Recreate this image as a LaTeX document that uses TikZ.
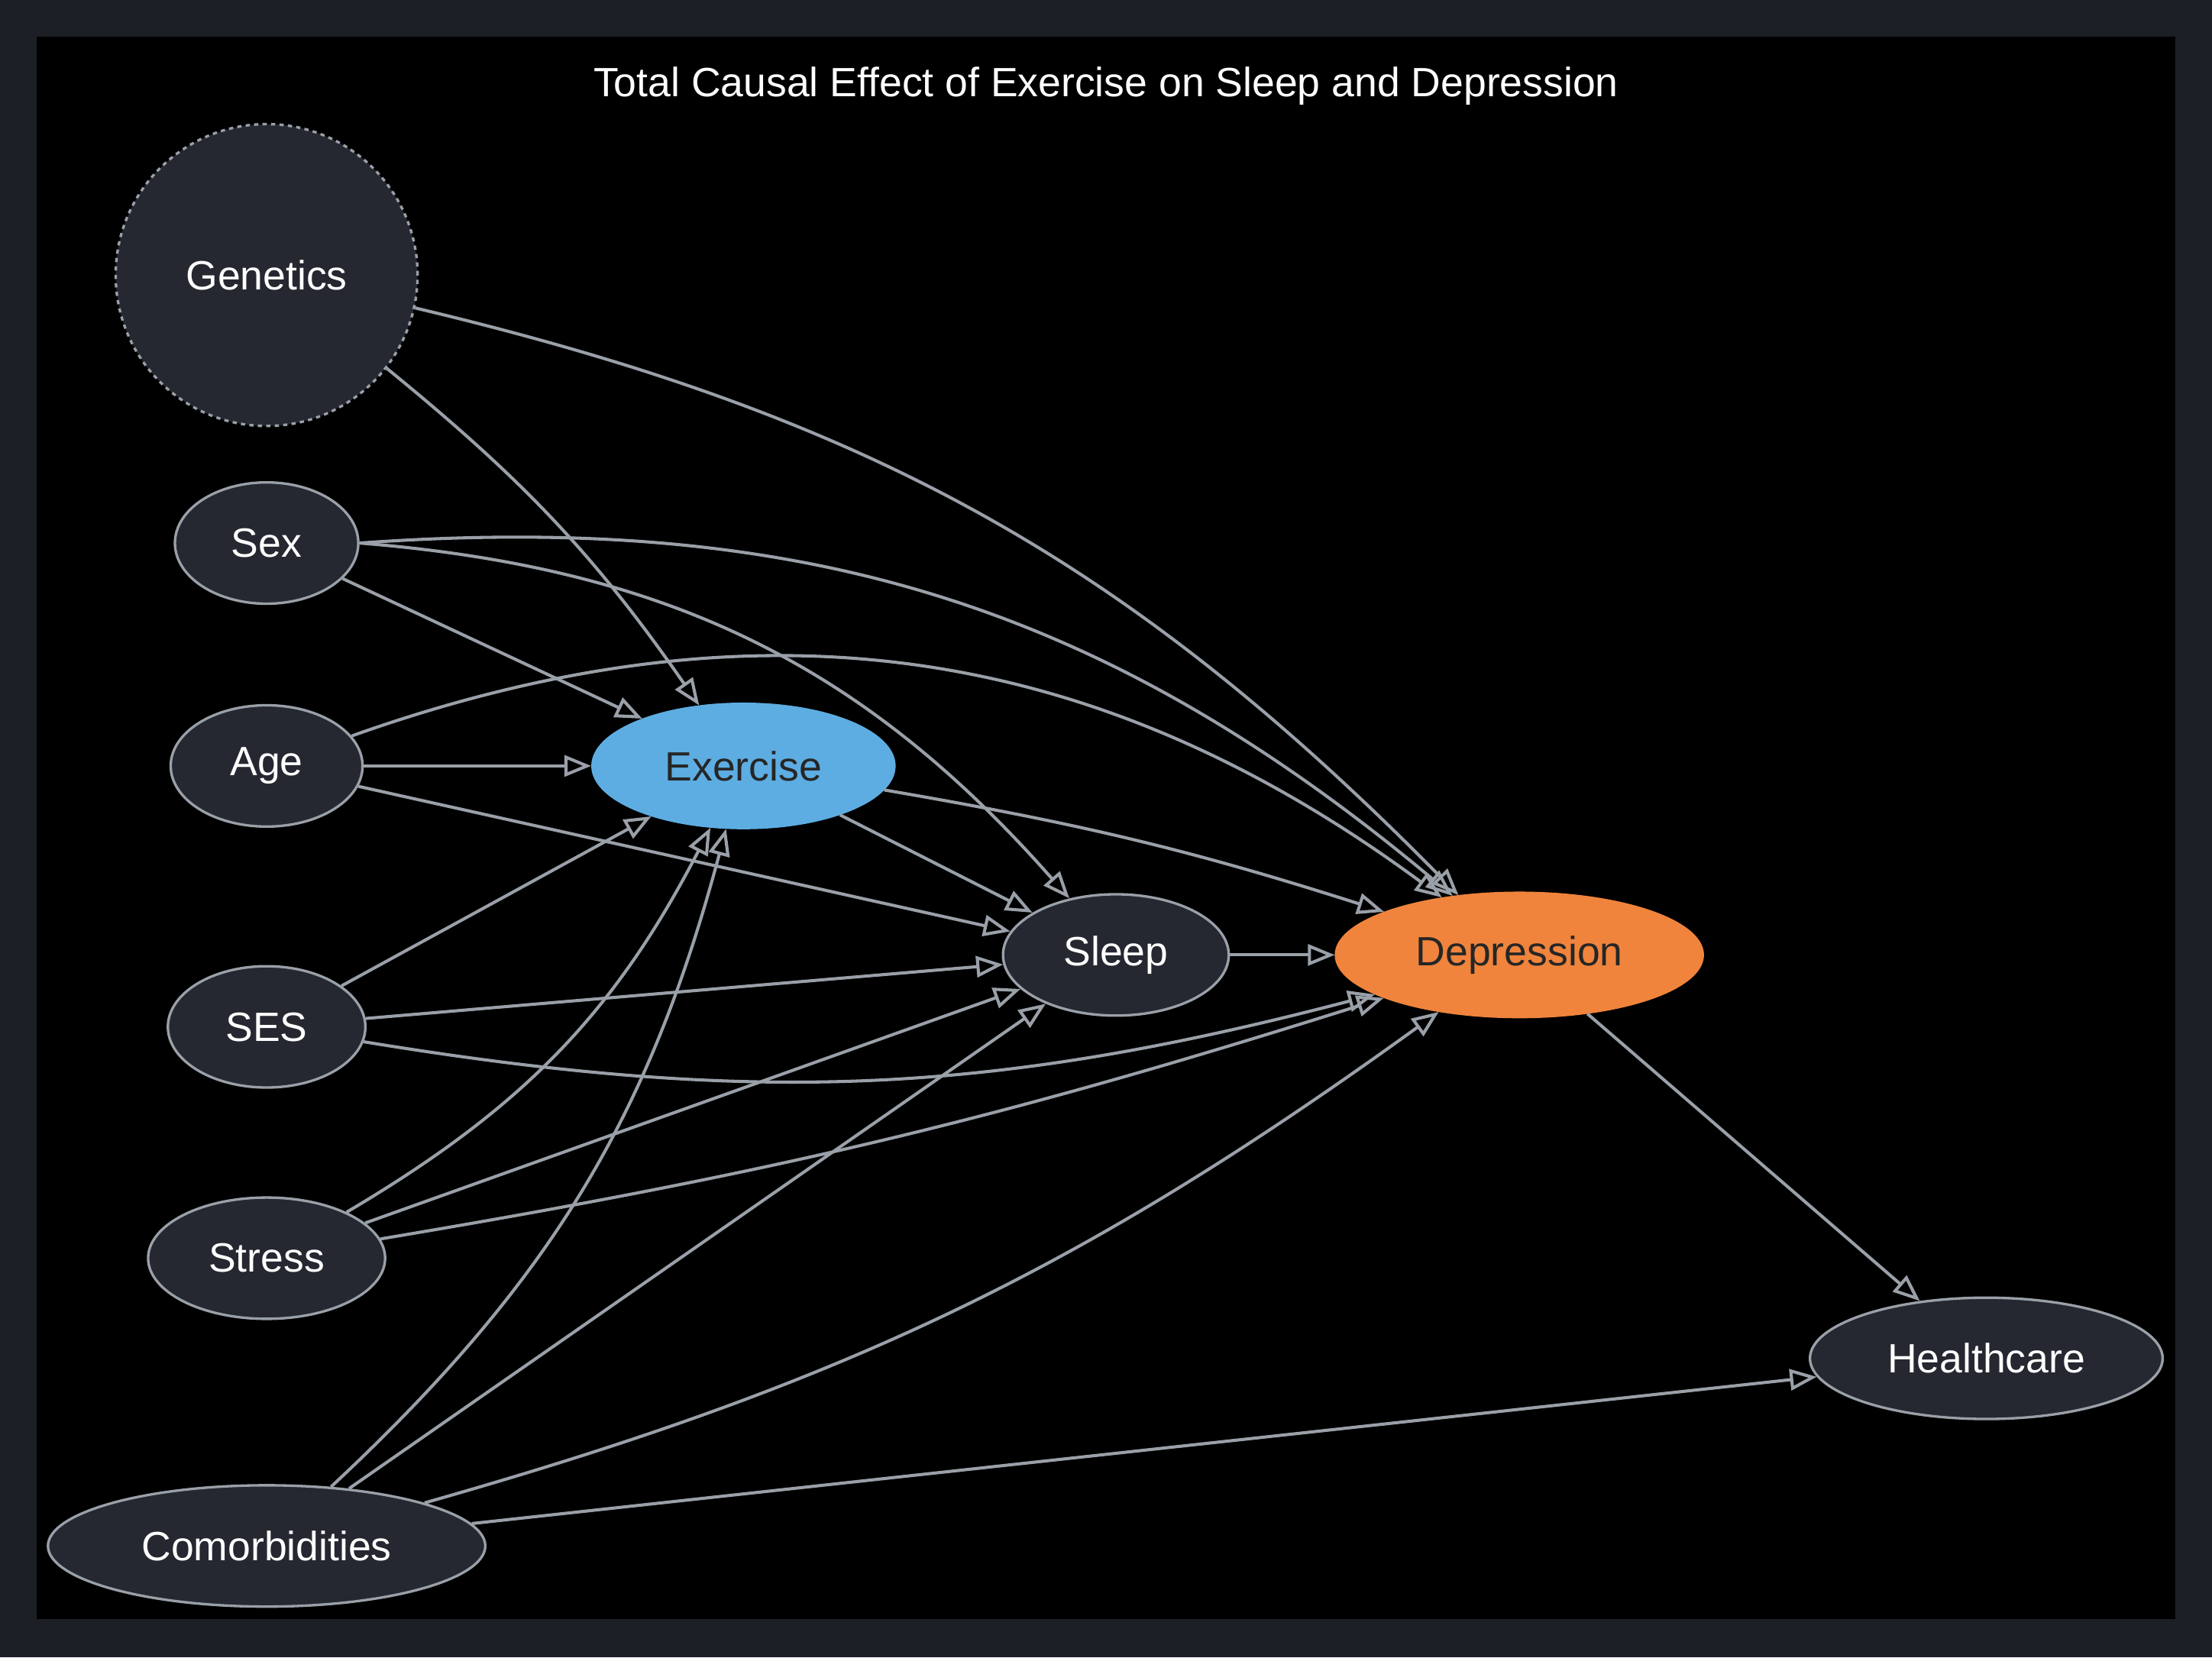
\documentclass[tikz,border=0pt]{standalone}
\usepackage{fontspec}
\setmainfont{Liberation Sans}
\usetikzlibrary{arrows.meta,shapes.geometric}
\definecolor{bgc}{HTML}{1C1F26}
\definecolor{nodef}{HTML}{252830}
\definecolor{edgec}{HTML}{9AA0A8}
\definecolor{exc}{HTML}{5DADE2}
\definecolor{depc}{HTML}{F0843C}
\begin{document}
\begin{tikzpicture}[x=1pt,y=-1pt,
  nd/.style={ellipse,draw=edgec,line width=1.8pt,fill=nodef,text=white,inner sep=0pt,font=\fontsize{29}{34}\selectfont},
  ed/.style={draw=edgec,line width=2.2pt,-{Triangle[open,length=19pt,width=15pt]}}]
\fill[bgc] (0,0) rectangle (1568,1175);
\fill[black] (26,26) rectangle (1542,1148);
\useasboundingbox (0,0) rectangle (1568,1175);
\node[text=white,font=\fontsize{29}{34}\selectfont] (title) at (784,61) {Total Causal Effect of Exercise on Sleep and Depression};
\node[nd,circle,dashed,minimum size=214pt] (gen) at (189,195) {Genetics};
\node[nd,minimum width=130pt,minimum height=86pt] (sex) at (189,385) {Sex};
\node[nd,minimum width=136pt,minimum height=86pt] (age) at (189,543) {Age};
\node[nd,minimum width=140pt,minimum height=86pt] (ses) at (189,728) {SES};
\node[nd,minimum width=168pt,minimum height=86pt] (str) at (189,892) {Stress};
\node[nd,minimum width=310pt,minimum height=86pt] (com) at (189,1096) {Comorbidities};
\node[nd,fill=exc,draw=exc,text=black!85,minimum width=214pt,minimum height=88pt] (ex) at (527,543) {Exercise};
\node[nd,minimum width=160pt,minimum height=86pt] (sl) at (791,677) {Sleep};
\node[nd,fill=depc,draw=depc,text=black!85,minimum width=260pt,minimum height=88pt] (dep) at (1077,677) {Depression};
\node[nd,minimum width=250pt,minimum height=86pt] (hc) at (1408,963) {Healthcare};

\draw[ed] (gen) to[bend left=8] (ex);
\draw[ed] (gen) to[bend left=16] (dep);
\draw[ed] (sex) -- (ex);
\draw[ed] (sex.east) to[bend left=22] (sl);
\draw[ed] (sex.east) to[bend left=22] (dep);
\draw[ed] (age) -- (ex);
\draw[ed] (age) -- (sl);
\draw[ed] (age) to[bend left=28] (dep);
\draw[ed] (ses) -- (ex);
\draw[ed] (ses) -- (sl);
\draw[ed] (ses) to[bend right=12] (dep);
\draw[ed] (str) to[bend right=16] (ex);
\draw[ed] (str) -- (sl);
\draw[ed] (str) to[bend right=4] (dep);
\draw[ed] (com) to[bend right=16] (ex);
\draw[ed] (com) -- (sl);
\draw[ed] (com) to[bend right=10] (dep);
\draw[ed] (com) -- (hc);
\draw[ed] (ex) -- (sl);
\draw[ed] (ex) to[bend left=4] (dep);
\draw[ed] (sl) -- (dep);
\draw[ed] (dep) -- (hc);
\end{tikzpicture}
\end{document}
